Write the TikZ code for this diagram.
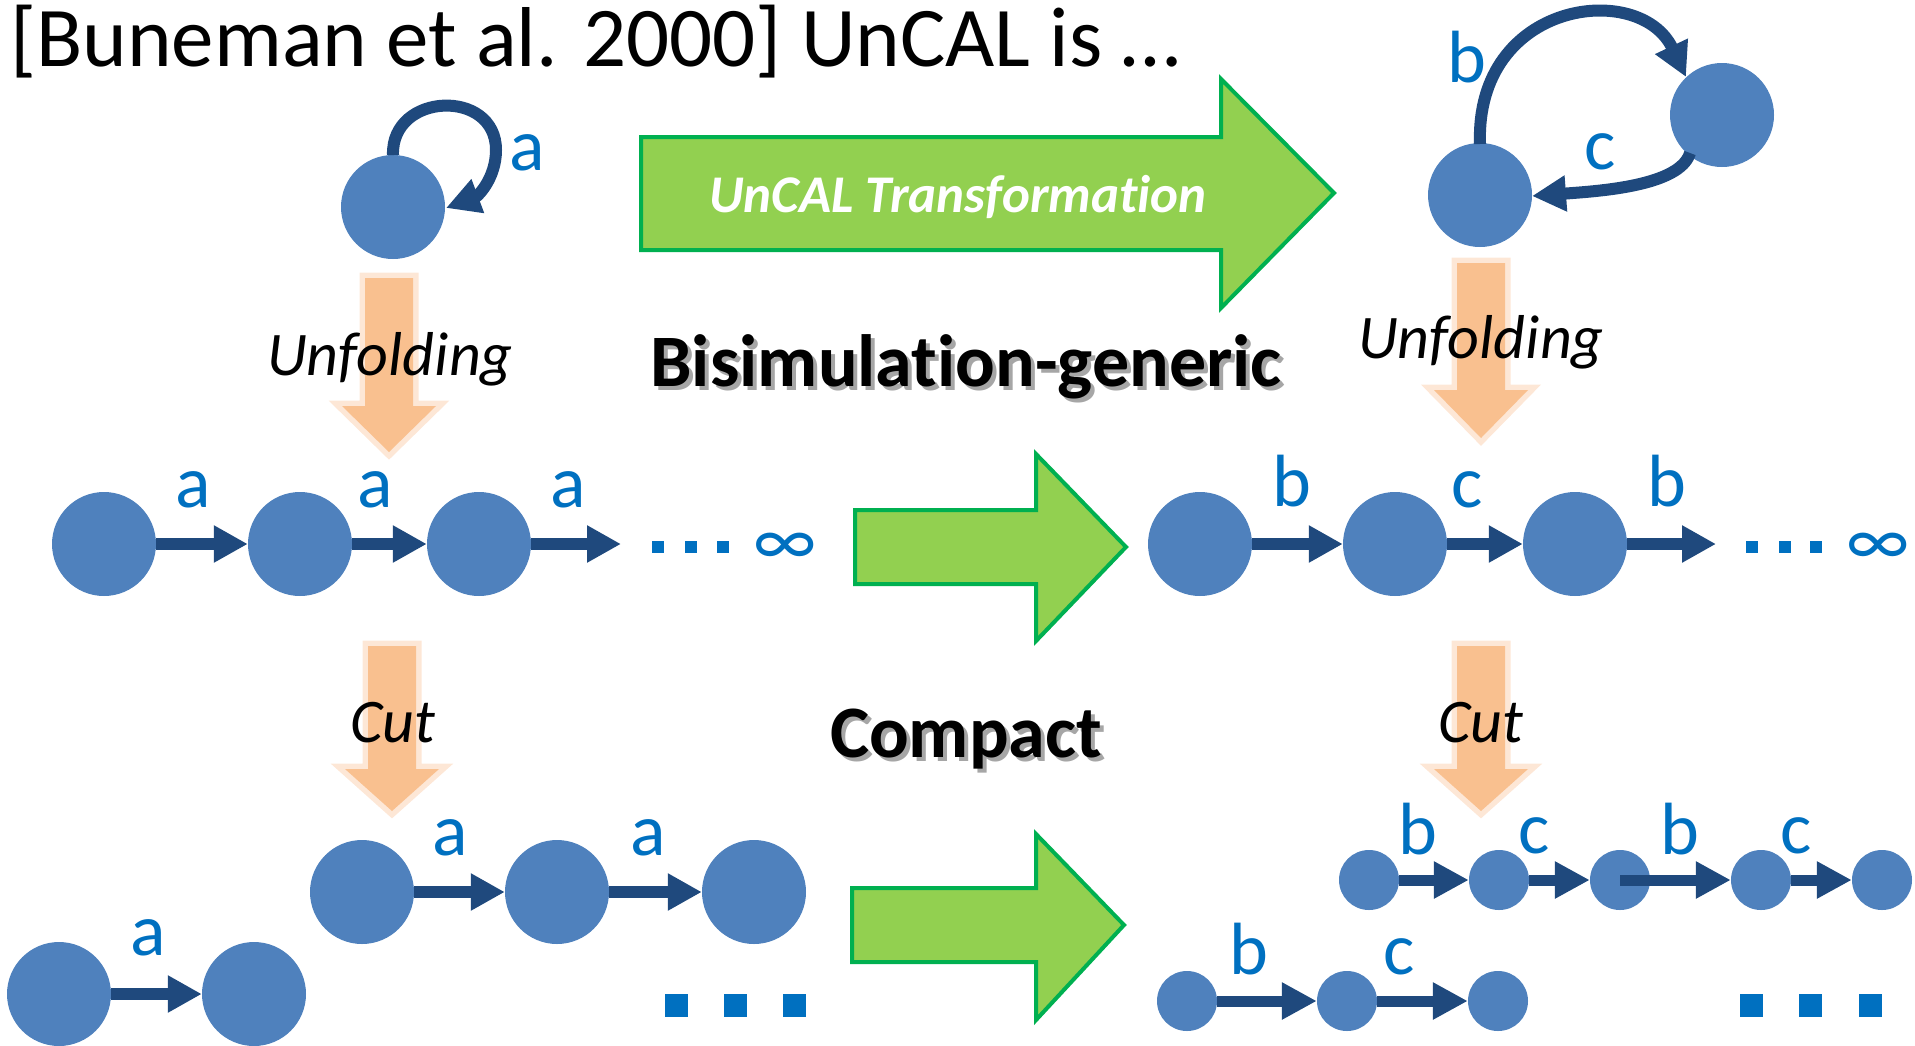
\documentclass[tikz,border=0pt]{standalone}
\usepackage{fontspec}
\setmainfont{Carlito}[Ligatures={NoCommon}, RawFeature={-liga;-clig;-calt;-dlig}]
\usetikzlibrary{arrows.meta}

\definecolor{nodeblue}{RGB}{79,129,189}
\definecolor{edgeblue}{RGB}{31,73,125}
\definecolor{lblblue}{RGB}{0,112,192}
\definecolor{greenfill}{RGB}{146,208,80}
\definecolor{greenline}{RGB}{0,176,80}
\definecolor{orangefill}{RGB}{249,192,143}
\definecolor{orangeglow}{RGB}{253,231,214}

\newcommand\pxsize[1]{\fontsize{#1}{#1}\selectfont}
% keeps t and i as separate glyphs
\newcommand\ti{t\kern0pt i}
% bold heading with a soft drop shadow, set as one piece of text
\newcommand\shadowed[1]{%
  \rlap{\kern4pt\raisebox{-4pt}{\color{black!35}#1}}%
  #1}

\begin{document}
\begin{tikzpicture}[x=1pt,y=-1pt,
  bignode/.style={circle, fill=nodeblue, minimum size=104pt, inner sep=0pt},
  smallnode/.style={circle, fill=nodeblue, minimum size=60pt, inner sep=0pt},
  link/.style={draw=edgeblue, line width=12pt, -{Triangle[length=34pt,width=35pt]}},
  smalllink/.style={draw=edgeblue, line width=11pt, -{Triangle[length=35pt,width=35pt]}},
  curvelink/.style={draw=edgeblue, line width=12pt, -{Triangle[length=34pt,width=34pt]}},
  lbl/.style={text=lblblue, font=\pxsize{74}, inner sep=0pt},
  stepword/.style={font=\pxsize{62}\itshape, anchor=base, inner sep=0pt},
  headline/.style={font=\pxsize{74}\bfseries, anchor=base, inner sep=0pt},
  greenarrow/.style={fill=greenfill, draw=greenline, line width=4pt, line join=miter},
  orangearrow/.style={fill=orangefill, preaction={draw=orangeglow, line width=11pt, line join=miter}},
  dotsq/.style={fill=lblblue}
]
\useasboundingbox (0,0) rectangle (1915,1045);

% title
\node[anchor=base west, inner sep=0pt, font=\pxsize{85}] (title) at (10,66) {[Buneman et al. 2000] UnCAL is …};

% transformation arrows
\draw[greenarrow] (641,137) -- (1221,137) -- (1221,79) -- (1334,193) -- (1221,308) -- (1221,250) -- (641,250) -- cycle;
\node[anchor=base, inner sep=0pt, text=white, font=\pxsize{53}\bfseries\itshape] (trans) at (958,212) {UnCAL Transforma\ti on};
\draw[greenarrow] (855,510) -- (1036,510) -- (1036,454) -- (1126,547) -- (1036,641) -- (1036,584) -- (855,584) -- cycle;
\draw[greenarrow] (852,888) -- (1036,888) -- (1036,834) -- (1124,925) -- (1036,1020) -- (1036,962) -- (852,962) -- cycle;

% unfolding / cut arrows
\path[orangearrow] (365,278) -- (413,278) -- (413,406) -- (436,406) -- (389,452) -- (342,406) -- (365,406) -- cycle;
\path[orangearrow] (1457,263) -- (1505,263) -- (1505,390) -- (1528,390) -- (1481,438) -- (1434,390) -- (1457,390) -- cycle;
\path[orangearrow] (368,646) -- (416,646) -- (416,769) -- (439,769) -- (392,811) -- (345,769) -- (368,769) -- cycle;
\path[orangearrow] (1457,646) -- (1505,646) -- (1505,769) -- (1528,769) -- (1481,811) -- (1434,769) -- (1457,769) -- cycle;

\node[stepword] (unfoldL) at (390,375) {Unfolding};
\node[stepword] (unfoldR) at (1481,358) {Unfolding};
\node[stepword] (cutL) at (393,742) {Cut};
\node[stepword] (cutR) at (1481,742) {Cut};

% headings
\node[headline] (bisim) at (966,386) {\shadowed{Bisimula\ti on-generic}};
\node[headline] (compact) at (966,757) {\shadowed{Compact}};

% cyclic graph with a self loop
\node[bignode] (s) at (393,207) {};
\draw[curvelink] (393,155) .. controls (391,92) and (496,88) .. (496,150) .. controls (496,178) and (478,196) .. (446,208);
\node[lbl] (sa) at (527,153) {a};

% cyclic graph b / c
\node[bignode] (t1) at (1480,195) {};
\node[bignode] (t2) at (1722,115) {};
\draw[curvelink] (1480,144) .. controls (1475,0) and (1640,-20) .. (1686,77);
\draw[curvelink] (1690,153) .. controls (1680,186) and (1600,191) .. (1532,196);
\node[lbl] (tb) at (1467,57) {b};
\node[lbl] (tc) at (1600,152) {c};

% infinite unfolding, left
\node[bignode] (u1) at (104,544) {};
\node[bignode] (u2) at (300,544) {};
\node[bignode] (u3) at (479,544) {};
\coordinate (uend) at (621,544);
\draw[link] (u1) -- (u2);
\draw[link] (u2) -- (u3);
\draw[link] (u3) -- (uend);
\node[lbl] (ua1) at (193,490) {a};
\node[lbl] (ua2) at (375,490) {a};
\node[lbl] (ua3) at (568,490) {a};
\foreach \x in {658,691,723} \fill[dotsq] (\x-6,541) rectangle (\x+6,553);
\node[lbl] (uinf) at (785,549) {∞};

% infinite unfolding, right
\node[bignode] (v1) at (1200,544) {};
\node[bignode] (v2) at (1395,544) {};
\node[bignode] (v3) at (1575,544) {};
\coordinate (vend) at (1716,544);
\draw[link] (v1) -- (v2);
\draw[link] (v2) -- (v3);
\draw[link] (v3) -- (vend);
\node[lbl] (vb1) at (1292,481) {b};
\node[lbl] (vc1) at (1467,490) {c};
\node[lbl] (vb2) at (1667,481) {b};
\foreach \x in {1752,1785,1816} \fill[dotsq] (\x-6,541) rectangle (\x+6,553);
\node[lbl] (vinf) at (1878,549) {∞};

% cut, left
\node[bignode] (p1) at (362,892) {};
\node[bignode] (p2) at (557,892) {};
\node[bignode] (p3) at (754,892) {};
\draw[link] (p1) -- (p2);
\draw[link] (p2) -- (p3);
\node[lbl] (pa1) at (450,838) {a};
\node[lbl] (pa2) at (648,838) {a};
\node[bignode] (q1) at (59,994) {};
\node[bignode] (q2) at (254,994) {};
\draw[link] (q1) -- (q2);
\node[lbl] (qa1) at (148,938) {a};
\foreach \x in {676,735,794} \fill[dotsq] (\x-11.5,993.5) rectangle (\x+11.5,1016.5);

% cut, right
\node[smallnode] (r1) at (1369,880) {};
\node[smallnode] (r2) at (1499,880) {};
\node[smallnode] (r3) at (1620,880) {};
\node[smallnode] (r4) at (1761,880) {};
\node[smallnode] (r5) at (1882,880) {};
\draw[smalllink] (r1) -- (r2);
\draw[smalllink] (r2) -- (r3);
\draw[smalllink] (r3.center) -- (r4);
\draw[smalllink] (r4) -- (r5);
\node[lbl] (rb1) at (1418,829) {b};
\node[lbl] (rc1) at (1534,836) {c};
\node[lbl] (rb2) at (1680,829) {b};
\node[lbl] (rc2) at (1796,836) {c};
\node[smallnode] (w1) at (1187,1001) {};
\node[smallnode] (w2) at (1347,1001) {};
\node[smallnode] (w3) at (1498,1001) {};
\draw[smalllink] (w1) -- (w2);
\draw[smalllink] (w2) -- (w3);
\node[lbl] (wb1) at (1249,949) {b};
\node[lbl] (wc1) at (1399,957) {c};
\foreach \x in {1751,1810,1870} \fill[dotsq] (\x-11.5,993.5) rectangle (\x+11.5,1016.5);
\end{tikzpicture}
\end{document}
